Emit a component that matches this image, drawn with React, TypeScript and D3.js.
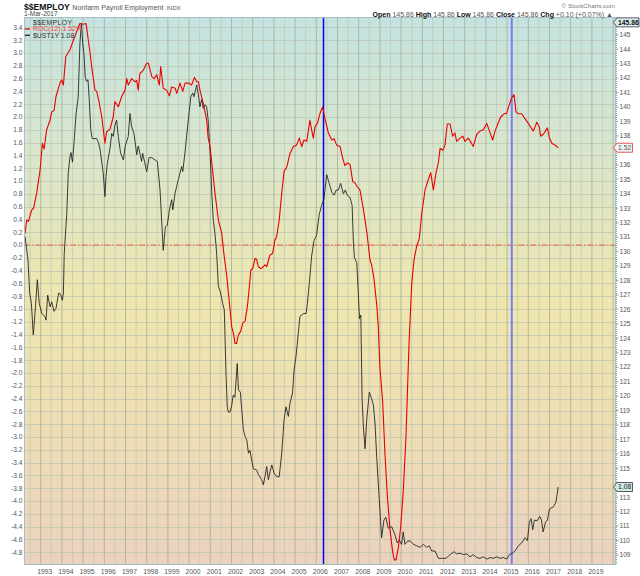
import { useEffect, useRef } from 'react';
import * as d3 from 'd3';

// ROC(12) of $$EMPLOY (left axis, %)
const rocDates = [
  1992.26, 1992.34, 1992.42, 1992.58, 1992.66, 1992.81, 1992.97, 1993.08, 1993.16, 1993.28,
  1993.44, 1993.52, 1993.63, 1993.72, 1993.91, 1993.99, 1994.07, 1994.18, 1994.38, 1994.54,
  1994.73, 1994.85, 1995.01, 1995.14, 1995.20, 1995.33, 1995.40, 1995.56, 1995.64, 1995.75,
  1995.88, 1996.03, 1996.11, 1996.27, 1996.42, 1996.50, 1996.66, 1996.82, 1996.98, 1997.06,
  1997.13, 1997.29, 1997.45, 1997.53, 1997.60, 1997.68, 1997.84, 1998.00, 1998.08, 1998.24,
  1998.35, 1998.47, 1998.60, 1998.66, 1998.78, 1998.94, 1999.07, 1999.18, 1999.34, 1999.42,
  1999.57, 1999.70, 1999.81, 1999.97, 2000.12, 2000.25, 2000.36, 2000.44, 2000.51, 2000.67,
  2000.83, 2000.90, 2000.99, 2001.07, 2001.22, 2001.38, 2001.54, 2001.62, 2001.78, 2001.93,
  2002.01, 2002.09, 2002.17, 2002.24, 2002.32, 2002.43, 2002.53, 2002.64, 2002.75, 2002.87,
  2002.91, 2003.00, 2003.11, 2003.19, 2003.27, 2003.38, 2003.50, 2003.58, 2003.66, 2003.81,
  2003.94, 2004.05, 2004.13, 2004.25, 2004.37, 2004.48, 2004.61, 2004.76, 2004.92, 2005.07,
  2005.20, 2005.31, 2005.42, 2005.55, 2005.70, 2005.78, 2005.86, 2005.94, 2006.05, 2006.17,
  2006.30, 2006.41, 2006.57, 2006.73, 2006.84, 2006.96, 2007.12, 2007.25, 2007.35, 2007.46,
  2007.59, 2007.72, 2007.83, 2007.93, 2008.06, 2008.22, 2008.38, 2008.53, 2008.61, 2008.72,
  2008.85, 2008.92, 2009.00, 2009.13, 2009.24, 2009.35, 2009.48, 2009.60, 2009.68, 2009.76,
  2009.87, 2009.98, 2010.10, 2010.23, 2010.37, 2010.50, 2010.61, 2010.74, 2010.86, 2010.97,
  2011.13, 2011.28, 2011.40, 2011.52, 2011.65, 2011.76, 2011.84, 2011.97, 2012.07, 2012.18,
  2012.31, 2012.43, 2012.54, 2012.62, 2012.78, 2012.91, 2013.01, 2013.17, 2013.30, 2013.40,
  2013.57, 2013.72, 2013.88, 2014.04, 2014.17, 2014.32, 2014.43, 2014.56, 2014.70, 2014.86,
  2014.98, 2015.10, 2015.22, 2015.33, 2015.42, 2015.53, 2015.69, 2015.85, 2015.96, 2016.08,
  2016.24, 2016.40, 2016.52, 2016.58, 2016.71, 2016.90, 2016.99, 2017.11, 2017.27, 2017.41,
];
const rocValues = [
  0.18, 0.39, 0.37, 0.55, 0.57, 0.81, 1.17, 1.59, 1.5, 1.8,
  1.95, 2.08, 2.1, 2.32, 2.53, 2.58, 2.5, 2.94, 3.05, 3.2,
  3.36, 3.46, 3.45, 3.46, 3.31, 3.0, 2.79, 2.42, 2.4, 2.24,
  2.0, 1.59, 1.77, 1.81, 2.0, 2.24, 2.16, 2.32, 2.42, 2.6,
  2.5, 2.6, 2.55, 2.57, 2.42, 2.68, 2.73, 2.84, 2.84, 2.63,
  2.6, 2.66, 2.5, 2.79, 2.45, 2.42, 2.33, 2.47, 2.45, 2.37,
  2.53, 2.4, 2.53, 2.53, 2.5, 2.62, 2.55, 2.55, 2.42, 2.21,
  1.95, 1.67, 1.54, 1.28, 0.81, 0.39, 0.18, -0.08, -0.5, -1.0,
  -1.28, -1.38, -1.54, -1.54, -1.41, -1.35, -1.22, -1.19, -0.96, -0.55,
  -0.39, -0.37, -0.21, -0.23, -0.34, -0.37, -0.34, -0.31, -0.34, -0.16,
  -0.13, 0.08, 0.13, 0.39, 0.81, 1.15, 1.22, 1.43, 1.54, 1.56,
  1.67, 1.54, 1.64, 1.62, 1.95, 1.8, 1.67, 1.85, 1.9, 2.05,
  2.16, 1.97, 1.75, 1.64, 1.66, 1.56, 1.54, 1.35, 1.24, 1.28,
  1.26, 0.99, 0.97, 0.91, 0.86, 0.56, 0.21, -0.23, -0.31, -0.53,
  -0.93, -1.26, -1.91, -2.45, -3.27, -3.92, -4.46, -4.79, -4.92, -4.92,
  -4.73, -4.41, -3.86, -3.0, -1.58, -0.61, -0.23, -0.01, 0.1, 0.48,
  0.86, 1.02, 1.13, 0.86, 1.13, 1.29, 1.51, 1.48, 1.56, 1.89,
  1.89, 1.7, 1.75, 1.62, 1.67, 1.7, 1.62, 1.67, 1.6, 1.54,
  1.73, 1.78, 1.8, 1.9, 1.78, 1.64, 1.78, 1.89, 2.0, 2.05,
  2.06, 2.19, 2.3, 2.35, 2.08, 2.05, 2.05, 1.97, 1.92, 1.86,
  1.78, 1.92, 1.84, 1.7, 1.73, 1.83, 1.68, 1.59, 1.56, 1.52,
];

// $UST1Y overlay (own hidden scale, %)
const ustDates = [
  1992.26, 1992.40, 1992.48, 1992.56, 1992.65, 1992.73, 1992.84, 1992.93, 1993.05, 1993.20,
  1993.25, 1993.33, 1993.44, 1993.52, 1993.63, 1993.72, 1993.85, 1993.94, 1994.02, 1994.07,
  1994.11, 1994.23, 1994.30, 1994.38, 1994.43, 1994.50, 1994.57, 1994.67, 1994.77, 1994.85,
  1994.92, 1994.98, 1995.04, 1995.10, 1995.16, 1995.23, 1995.29, 1995.36, 1995.43, 1995.64,
  1995.72, 1995.80, 1995.95, 1996.03, 1996.08, 1996.14, 1996.27, 1996.35, 1996.42, 1996.50,
  1996.58, 1996.66, 1996.77, 1996.90, 1996.98, 1997.13, 1997.21, 1997.29, 1997.40, 1997.53,
  1997.60, 1997.68, 1997.76, 1997.81, 1997.88, 1998.00, 1998.11, 1998.24, 1998.39, 1998.50,
  1998.63, 1998.78, 1998.88, 1998.97, 1999.07, 1999.18, 1999.23, 1999.34, 1999.49, 1999.65,
  1999.70, 1999.81, 1999.96, 2000.08, 2000.17, 2000.23, 2000.36, 2000.44, 2000.51, 2000.59,
  2000.67, 2000.75, 2000.83, 2000.90, 2000.99, 2001.07, 2001.14, 2001.22, 2001.30, 2001.38,
  2001.47, 2001.58, 2001.66, 2001.74, 2001.80, 2001.85, 2001.93, 2002.01, 2002.08, 2002.16,
  2002.27, 2002.33, 2002.42, 2002.56, 2002.64, 2002.72, 2002.80, 2002.87, 2002.95, 2003.03,
  2003.19, 2003.27, 2003.42, 2003.50, 2003.58, 2003.66, 2003.74, 2003.82, 2003.90, 2004.01,
  2004.13, 2004.25, 2004.37, 2004.48, 2004.57, 2004.68, 2004.76, 2004.88, 2004.95, 2005.04,
  2005.15, 2005.23, 2005.39, 2005.52, 2005.58, 2005.67, 2005.78, 2005.89, 2006.01, 2006.14,
  2006.25, 2006.36, 2006.49, 2006.61, 2006.73, 2006.84, 2006.94, 2007.04, 2007.15, 2007.28,
  2007.37, 2007.46, 2007.59, 2007.69, 2007.75, 2007.80, 2007.91, 2007.99, 2008.04, 2008.10,
  2008.16, 2008.22, 2008.30, 2008.38, 2008.50, 2008.61, 2008.69, 2008.77, 2008.85, 2008.97,
  2009.08, 2009.19, 2009.28, 2009.39, 2009.56, 2009.71, 2009.82, 2009.91, 2010.02, 2010.10,
  2010.18, 2010.29, 2010.42, 2010.58, 2010.74, 2010.89, 2011.05, 2011.21, 2011.33, 2011.44,
  2011.60, 2011.76, 2011.91, 2012.12, 2012.31, 2012.50, 2012.62, 2012.78, 2012.94, 2013.10,
  2013.25, 2013.41, 2013.57, 2013.72, 2013.88, 2014.04, 2014.20, 2014.35, 2014.51, 2014.67,
  2014.83, 2014.98, 2015.11, 2015.18, 2015.26, 2015.37, 2015.53, 2015.69, 2015.85, 2015.96,
  2016.05, 2016.13, 2016.21, 2016.29, 2016.42, 2016.54, 2016.62, 2016.70, 2016.81, 2016.90,
  2017.00, 2017.11, 2017.18, 2017.30, 2017.36, 2017.41,
];
const ustValues = [
  4.49, 4.17, 3.72, 3.58, 3.15, 3.44, 3.9, 3.58, 3.44, 3.4,
  3.35, 3.69, 3.53, 3.6, 3.47, 3.51, 3.72, 3.7, 3.62, 3.72,
  4.26, 4.8, 5.35, 5.57, 5.63, 5.5, 5.76, 6.16, 6.39, 7.12,
  7.39, 7.12, 6.98, 6.66, 6.6, 6.62, 6.35, 5.94, 5.82, 5.82,
  5.77, 5.67, 5.35, 5.03, 5.3, 5.48, 5.69, 5.89, 5.85, 6.0,
  6.07, 5.85, 5.62, 5.53, 5.71, 5.85, 6.16, 5.98, 5.89, 5.6,
  5.72, 5.62, 5.51, 5.62, 5.53, 5.37, 5.56, 5.56, 5.53, 5.51,
  5.12, 4.3, 4.62, 4.64, 4.85, 4.99, 4.85, 5.08, 5.26, 5.44,
  5.37, 5.64, 6.07, 6.39, 6.44, 6.39, 6.55, 6.41, 6.25, 6.35,
  6.23, 6.28, 6.25, 6.07, 5.62, 5.08, 4.71, 4.53, 4.26, 3.81,
  3.74, 3.58, 3.49, 2.63, 2.17, 2.1, 2.1, 2.19, 2.33, 2.3,
  2.76, 2.4, 2.37, 1.86, 1.77, 1.72, 1.54, 1.58, 1.45, 1.33,
  1.31, 1.25, 1.18, 1.11, 1.22, 1.36, 1.18, 1.29, 1.38, 1.27,
  1.22, 1.22, 1.54, 1.99, 2.17, 2.04, 2.22, 2.36, 2.67, 2.85,
  3.17, 3.4, 3.44, 3.44, 3.58, 3.85, 4.22, 4.43, 4.5, 4.79,
  4.91, 5.0, 5.33, 5.21, 5.09, 5.05, 5.12, 5.12, 5.21, 5.07,
  5.12, 5.05, 5.02, 4.91, 4.41, 4.2, 4.13, 3.65, 3.37, 3.42,
  2.28, 1.91, 1.6, 2.0, 2.37, 2.28, 2.2, 1.95, 1.48, 0.91,
  0.39, 0.63, 0.67, 0.52, 0.54, 0.43, 0.32, 0.36, 0.3, 0.47,
  0.3, 0.34, 0.35, 0.3, 0.28, 0.26, 0.3, 0.26, 0.28, 0.21,
  0.21, 0.11, 0.11, 0.11, 0.16, 0.2, 0.17, 0.18, 0.16, 0.17,
  0.13, 0.16, 0.12, 0.11, 0.13, 0.1, 0.12, 0.11, 0.13, 0.11,
  0.12, 0.1, 0.16, 0.17, 0.18, 0.21, 0.28, 0.32, 0.39, 0.35,
  0.6, 0.65, 0.5, 0.63, 0.62, 0.68, 0.63, 0.47, 0.6, 0.63,
  0.78, 0.8, 0.81, 0.87, 0.98, 1.08,
];

const leftTicks = d3.range(-24, 18).map((i) => +(i * 0.2).toFixed(1));
const rightTicks = d3.range(109, 146);
const yearTicks = d3.range(1993, 2020);
const markerDates = [2006.34, 2015.22];
const markerColors = ['#0000ff', '#7b7bf5'];
const markerWidths = [1.5, 2];
const lastClose = 145.86;

const W = 640;
const H = 576;
const plot = { left: 24, right: 616, top: 17, bottom: 565 };
const FONT = '"Liberation Sans", Arial, sans-serif';

export default function App() {
  const svgRef = useRef<SVGSVGElement>(null);

  useEffect(() => {
    if (!svgRef.current) return;
    const svg = d3.select(svgRef.current);
    svg.selectAll('*').remove();

    const x = d3.scaleLinear().domain([1992.212, 2020.137]).range([plot.left, plot.right]);
    const yRoc = d3.scaleLinear().domain([-5.0, 3.5625]).range([plot.bottom, plot.top]);
    const yUst = d3.scaleLinear().domain([0, 7.5]).range([566.4, 15.1]);
    const yPrice = d3.scaleLinear().domain([109, 145]).range([555, 34.8]);

    // background gradient
    const defs = svg.append('defs');
    const grad = defs.append('linearGradient')
      .attr('id', 'bg').attr('x1', 0).attr('y1', 0).attr('x2', 0).attr('y2', 1);
    [['0%', '#c4e3e1'], ['25%', '#d9e5cc'], ['52%', '#efe6ad'], ['78%', '#eedcb5'], ['100%', '#ebd2bf']]
      .forEach(([o, c]) => grad.append('stop').attr('offset', o).attr('stop-color', c));
    defs.append('clipPath').attr('id', 'clip').append('rect')
      .attr('x', plot.left).attr('y', plot.top)
      .attr('width', plot.right - plot.left).attr('height', plot.bottom - plot.top);

    svg.append('rect')
      .attr('x', plot.left).attr('y', plot.top)
      .attr('width', plot.right - plot.left).attr('height', plot.bottom - plot.top)
      .attr('fill', 'url(#bg)');

    // grid: horizontal every 0.2
    svg.append('g').selectAll('line').data(leftTicks).join('line')
      .attr('x1', plot.left).attr('x2', plot.right)
      .attr('y1', (d) => Math.round(yRoc(d)) + 0.5).attr('y2', (d) => Math.round(yRoc(d)) + 0.5)
      .attr('stroke', '#bfc6b2').attr('stroke-width', 0.8);

    // grid: vertical, years darker, half years lighter
    const halfYears = d3.range(1992.5, 2020.1, 1);
    svg.append('g').selectAll('line').data(halfYears).join('line')
      .attr('x1', (d) => x(d)).attr('x2', (d) => x(d))
      .attr('y1', plot.top).attr('y2', plot.bottom)
      .attr('stroke', '#c3c9b4').attr('stroke-width', 0.8);
    svg.append('g').selectAll('line').data(yearTicks.concat([2020])).join('line')
      .attr('x1', (d) => x(d)).attr('x2', (d) => x(d))
      .attr('y1', plot.top).attr('y2', plot.bottom)
      .attr('stroke', '#a9b39b').attr('stroke-width', 0.9);

    // zero line
    svg.append('line')
      .attr('x1', plot.left).attr('x2', plot.right)
      .attr('y1', yRoc(0)).attr('y2', yRoc(0))
      .attr('stroke', '#f0603c').attr('stroke-width', 1)
      .attr('stroke-dasharray', '6,2,1.5,2');

    // vertical markers
    svg.append('g').selectAll('line').data(markerDates).join('line')
      .attr('x1', (d) => x(d)).attr('x2', (d) => x(d))
      .attr('y1', plot.top).attr('y2', plot.bottom)
      .attr('stroke', (_d, i) => markerColors[i])
      .attr('stroke-width', (_d, i) => markerWidths[i]);

    const lines = svg.append('g').attr('clip-path', 'url(#clip)');

    // UST1Y
    const ustLine = d3.line<[number, number]>()
      .x((d) => x(d[0])).y((d) => yUst(d[1]));
    lines.append('path')
      .attr('d', ustLine(d3.zip(ustDates, ustValues) as [number, number][]))
      .attr('fill', 'none').attr('stroke', '#1c1c1c').attr('stroke-width', 0.85)
      .attr('stroke-linejoin', 'round');

    // ROC(12)
    const rocLine = d3.line<[number, number]>()
      .x((d) => x(d[0])).y((d) => yRoc(d[1]));
    lines.append('path')
      .attr('d', rocLine(d3.zip(rocDates, rocValues) as [number, number][]))
      .attr('fill', 'none').attr('stroke', '#e80000').attr('stroke-width', 1.1)
      .attr('stroke-linejoin', 'round');

    // plot border
    svg.append('rect')
      .attr('x', plot.left + 0.5).attr('y', plot.top + 0.5)
      .attr('width', plot.right - plot.left - 1).attr('height', plot.bottom - plot.top - 1)
      .attr('fill', 'none').attr('stroke', '#a8bec8').attr('stroke-width', 1);
    svg.append('line')
      .attr('x1', plot.right + 0.5).attr('x2', plot.right + 0.5)
      .attr('y1', plot.top).attr('y2', plot.bottom)
      .attr('stroke', '#7aa6c4').attr('stroke-width', 1).attr('stroke-dasharray', '1,1');

    // left axis labels
    svg.append('g').selectAll('text').data(leftTicks).join('text')
      .attr('x', 22.5).attr('y', (d) => yRoc(d) + 2.3)
      .attr('text-anchor', 'end')
      .attr('font-family', FONT).attr('font-size', '6.6px').attr('fill', '#555')
      .text((d) => d.toFixed(1));

    // tag positions on the right axis
    const tagYs = [
      yPrice(lastClose),
      yRoc(rocValues[rocValues.length - 1]),
      yUst(ustValues[ustValues.length - 1]),
    ];
    const freeTicks = rightTicks.filter((d) => tagYs.every((ty) => Math.abs(yPrice(d) - ty) > 6));

    // right axis ticks + labels
    svg.append('g').selectAll('line').data(rightTicks.concat([146])).join('line')
      .attr('x1', plot.right).attr('x2', plot.right + 2.5)
      .attr('y1', (d) => yPrice(d)).attr('y2', (d) => yPrice(d))
      .attr('stroke', '#888').attr('stroke-width', 0.7);
    svg.append('g').selectAll('text').data(freeTicks).join('text')
      .attr('x', 619.5).attr('y', (d) => yPrice(d) + 2.3)
      .attr('font-family', FONT).attr('font-size', '6.6px').attr('fill', '#555')
      .text((d) => d);

    // x axis labels
    svg.append('g').selectAll('text').data(yearTicks).join('text')
      .attr('x', (d) => x(d) + 4).attr('y', 574)
      .attr('text-anchor', 'middle')
      .attr('font-family', FONT).attr('font-size', '6.8px').attr('fill', '#555')
      .text((d) => d);

    // right side tags
    const tag = (cy: number, w: number, label: string, stroke: string, fill: string, color: string, bold: boolean) => {
      const x0 = 613.5;
      svg.append('path')
        .attr('d', `M${x0},${cy} L${x0 + 3.5},${cy - 4.5} L${x0 + 3.5 + w},${cy - 4.5} L${x0 + 3.5 + w},${cy + 4.5} L${x0 + 3.5},${cy + 4.5} Z`)
        .attr('fill', fill).attr('stroke', stroke).attr('stroke-width', 0.8);
      svg.append('text')
        .attr('x', x0 + 4.5).attr('y', cy + 2.4)
        .attr('font-family', FONT).attr('font-size', '6.8px')
        .attr('font-weight', bold ? 'bold' : 'normal').attr('fill', color)
        .text(label);
    };
    tag(tagYs[0], 22, lastClose.toFixed(2), '#334', '#d8eeee', '#111', true);
    tag(tagYs[1], 15.5, '1.52', '#e03030', '#eef6f4', '#555', false);
    tag(tagYs[2], 15.5, '1.08', '#333', '#cfe8e8', '#222', false);

    // legend
    const lg = svg.append('g').attr('font-family', FONT).attr('font-size', '6.9px');
    lg.append('text').attr('x', 33).attr('y', 25).attr('fill', '#333')
      .attr('letter-spacing', '0.4px').text('$$EMPLOY');
    lg.append('line').attr('x1', 25).attr('x2', 30).attr('y1', 29).attr('y2', 29)
      .attr('stroke', '#e80000').attr('stroke-width', 1.3);
    lg.append('text').attr('x', 33).attr('y', 31.3).attr('fill', '#ee4444').text('ROC(12) 1.52%');
    lg.append('line').attr('x1', 25).attr('x2', 30).attr('y1', 35.3).attr('y2', 35.3)
      .attr('stroke', '#222').attr('stroke-width', 1.3);
    lg.append('text').attr('x', 33).attr('y', 37.6).attr('fill', '#333').text('$UST1Y 1.08');

    // header
    const hd = svg.append('text').attr('x', 24).attr('y', 9.5).attr('font-family', FONT);
    hd.append('tspan').attr('font-size', '8.6px').attr('font-weight', 'bold').attr('fill', '#111').text('$$EMPLOY');
    hd.append('tspan').attr('dx', 2.5).attr('font-size', '7px').attr('fill', '#555').text('Nonfarm Payroll Employment');
    hd.append('tspan').attr('dx', 3).attr('font-size', '6px').attr('fill', '#555').text('INDX');
    svg.append('text').attr('x', 24).attr('y', 16.3)
      .attr('font-family', FONT).attr('font-size', '6.5px').attr('fill', '#444').text('1-Mar-2017');

    svg.append('text').attr('x', 615).attr('y', 8).attr('text-anchor', 'end')
      .attr('font-family', FONT).attr('font-size', '6.2px').attr('fill', '#777').text('© StockCharts.com');

    const q = svg.append('text').attr('x', 613).attr('y', 16.5).attr('text-anchor', 'end')
      .attr('font-family', FONT).attr('font-size', '7px').attr('fill', '#555');
    const parts: [string, boolean][] = [
      ['Open', true], [' 145.86 ', false], ['High', true], [' 145.86 ', false],
      ['Low', true], [' 145.86 ', false], ['Close', true], [' 145.86 ', false],
      ['Chg', true], [' +0.10 (+0.07%) ▲', false],
    ];
    parts.forEach(([t, b]) => {
      q.append('tspan').attr('font-weight', b ? 'bold' : 'normal')
        .attr('fill', b ? '#111' : '#555').text(t);
    });
  }, []);

  return (
    <svg
      ref={svgRef}
      width={W}
      height={H}
      style={{ position: 'absolute', left: 0, top: 0, background: '#fff' }}
    />
  );
}
